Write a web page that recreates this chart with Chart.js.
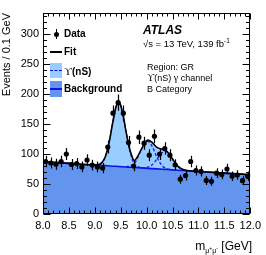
<!DOCTYPE html>
<html><head><meta charset="utf-8">
<script src="https://cdn.jsdelivr.net/npm/chart.js@4"></script>
<style>
html,body{margin:0;padding:0;background:#fff;}
#wrap{position:relative;width:266px;height:255px;font-family:"Liberation Sans",Arial,sans-serif;color:#000;overflow:hidden;}
canvas{position:absolute;left:0;top:0;}
.t{position:absolute;white-space:nowrap;line-height:1;transform:translateY(-50%);}
.b{font-weight:bold;}
.sym{position:absolute;}
.serif{font-family:"Liberation Serif","Times New Roman",serif;font-weight:normal;}
sup,sub{line-height:0;}
</style></head><body>
<div id="wrap">
<canvas id="c" width="266" height="255"></canvas>
<!-- legend -->
<div class="sym" style="left:55.5px;top:29px;width:1px;height:10px;background:#000"></div>
<div class="sym" style="left:53.5px;top:31.5px;width:5px;height:5px;border-radius:50%;background:#000"></div>
<div class="t b" style="left:64px;top:34px;font-size:10px">Data</div>
<div class="sym" style="left:50px;top:51px;width:12px;height:1.6px;background:#000"></div>
<div class="t b" style="left:64px;top:52px;font-size:10px">Fit</div>
<div class="sym" style="left:50px;top:63px;width:12px;height:15px;background:#99ccff"></div>
<div class="sym" style="left:50px;top:69.5px;width:12px;height:0;border-top:1.5px dashed #1010f0"></div>
<div class="t b" style="left:64px;top:71px;font-size:10px"><span class="serif" style="font-size:11px">ϒ</span>(nS)</div>
<div class="sym" style="left:50px;top:81px;width:12px;height:16px;background:#6394ee"></div>
<div class="sym" style="left:50px;top:88px;width:12px;height:1.6px;background:#0a14e6"></div>
<div class="t b" style="left:64px;top:89px;font-size:10px">Background</div>
<!-- labels -->
<div class="t b" style="left:143px;top:29.5px;font-size:12px;font-style:italic">ATLAS</div>
<div class="t" style="left:143px;top:43.5px;font-size:9.5px">√s = 13 TeV, 139 fb<sup style="font-size:6.5px">-1</sup></div>
<div class="t" style="left:147px;top:67px;font-size:9px">Region: GR</div>
<div class="t" style="left:147px;top:78px;font-size:9px"><span class="serif" style="font-size:10px">ϒ</span>(nS) <span class="serif" style="font-size:10px">γ</span> channel</div>
<div class="t" style="left:147px;top:89px;font-size:9px">B Category</div>
<div class="t" style="right:14px;top:246px;font-size:12px">m<sub style="font-size:7px">μ<sup style="font-size:5px">+</sup>μ<sup style="font-size:5px">-</sup></sub> [GeV]</div>
</div>
<script>
// ---- data ----
const binCenters = [8.05,8.15,8.25,8.35,8.45,8.55,8.65,8.75,8.85,8.95,
  9.05,9.15,9.25,9.35,9.45,9.55,9.65,9.75,9.85,9.95,
  10.05,10.15,10.25,10.35,10.45,10.55,10.65,10.75,10.85,10.95,
  11.05,11.15,11.25,11.35,11.45,11.55,11.65,11.75,11.85,11.95];
const dataCounts = [87.5,85,83,87.5,100,82.5,84,78.5,90,81.5,
  78.5,76.5,111.5,168,185.5,168,119,80,128,118,
  98,129.5,100,109,98,82,58,64,87.5,72.5,
  71,56,54.5,68,66,75,63,65,55.5,63];
const dataErrors = [9.4,9.2,9.1,9.4,10,9.1,9.2,8.9,9.5,9,
  8.9,8.7,10.6,13,13.6,13,10.9,8.9,11.3,10.9,
  9.9,11.4,10,10.4,9.9,9.1,7.6,8,9.4,8.5,
  8.4,7.5,7.4,8.2,8.1,8.7,7.9,8.1,7.5,7.9];
const fitX = [8.0,8.5,9.0,9.1,9.15,9.2,9.25,9.3,9.35,9.4,9.46,9.5,9.55,9.6,9.65,9.7,9.76,9.82,9.9,9.96,10.02,10.1,10.2,10.3,10.36,10.4,10.5,10.6,10.7,10.8,11.0,11.5,12.0];
const fitTotal = [87,84.3,81.8,83.4,87,95.1,109.3,130.2,154.5,175.7,186.8,181,162.9,138.7,116.1,100.4,89,95.2,108.2,118,123.1,119.7,110.9,108.1,106.5,103.7,91.6,79.8,74.1,72.2,70.9,68.2,65.5];
const fitBkg = [87,84.3,81.6,81.1,80.8,80.6,80.3,80.0,79.7,79.5,79.2,78.9,78.7,78.4,78.1,77.9,77.5,77.2,76.8,76.5,76.1,75.7,75.2,74.6,74.3,74.1,73.6,73.0,72.5,72.0,70.9,68.2,65.5];
const y1SX = [9.0,9.1,9.15,9.2,9.25,9.3,9.35,9.4,9.46,9.5,9.55,9.6,9.65,9.7,9.76,9.82,9.9,9.96];
const y1S = [81.6,83.4,87,95.1,109.3,130.2,154.5,175.7,186.8,181,162.9,138.3,114.9,97.4,83,79.5,77.2,76.6];
const y2SX = [9.6,9.7,9.76,9.82,9.9,9.96,10.02,10.1,10.2,10.3,10.36,10.4,10.5];
const y2S = [78.8,80.9,83.2,92.9,107.6,117.4,121.1,113.7,94.4,80.3,76.5,75.2,73.8];
const y3SX = [9.9,9.96,10.02,10.1,10.2,10.3,10.36,10.4,10.5,10.6,10.7,10.8];
const y3S = [77.0,77.1,78.0,81.7,91.7,102.4,104.3,102.6,91.4,79.8,74.1,72.2];
const xTicks = [8.0,8.5,9.0,9.5,10.0,10.5,11.0,11.5,12.0];
const xTickLabels = ['8.0','8.5','9.0','9.5','10.0','10.5','11.0','11.5','12.0'];
const yTicks = [0,50,100,150,200,250,300];
const yTickLabels = ['0','50','100','150','200','250','300'];
const xMin = 8, xMax = 12, yMin = 0, yMax = 335;
const xMinorStep = 0.1, yMinorStep = 10;

const pts = (xs, ys) => xs.map((x, i) => ({x: x, y: ys[i]}));
const FONT = '"Liberation Sans", Arial, sans-serif';

const errorBars = {
  id: 'errorBars',
  afterDatasetsDraw(chart) {
    const {ctx, scales: {x, y}, chartArea: a} = chart;
    ctx.save();
    ctx.beginPath(); ctx.rect(a.left, a.top, a.right - a.left, a.bottom - a.top); ctx.clip();
    ctx.strokeStyle = '#000'; ctx.lineWidth = 1.2;
    binCenters.forEach((c, i) => {
      const px = Math.round(x.getPixelForValue(c)) + 0.5;
      ctx.beginPath();
      ctx.moveTo(px, y.getPixelForValue(dataCounts[i] - dataErrors[i]));
      ctx.lineTo(px, y.getPixelForValue(dataCounts[i] + dataErrors[i]));
      ctx.stroke();
    });
    ctx.restore();
  }
};

const frameTicks = {
  id: 'frameTicks',
  afterDraw(chart) {
    const {ctx, scales: {x, y}, chartArea: a} = chart;
    ctx.save();
    ctx.strokeStyle = '#000'; ctx.lineWidth = 1;
    const L = Math.round(a.left) + 0.5, R = Math.round(a.right) - 0.5, T = Math.round(a.top) + 0.5, B = Math.round(a.bottom) - 0.5;
    ctx.strokeRect(L, T, R - L, B - T);
    ctx.beginPath();
    const nx = Math.round((xMax - xMin) / xMinorStep);
    for (let i = 0; i <= nx; i++) {
      const v = xMin + i * xMinorStep;
      const major = i % 5 === 0;
      const len = major ? 6 : 3;
      const px = Math.round(x.getPixelForValue(v)) + 0.5;
      ctx.moveTo(px, B); ctx.lineTo(px, B - len);
      ctx.moveTo(px, T); ctx.lineTo(px, T + len);
    }
    const ny = Math.floor((yMax - yMin) / yMinorStep);
    for (let i = 0; i <= ny; i++) {
      const v = yMin + i * yMinorStep;
      const major = i % 5 === 0;
      const len = major ? 7 : 3.5;
      const py = Math.round(y.getPixelForValue(v)) + 0.5;
      ctx.moveTo(L, py); ctx.lineTo(L + len, py);
      ctx.moveTo(R, py); ctx.lineTo(R - len, py);
    }
    ctx.stroke();
    ctx.restore();
  }
};

new Chart(document.getElementById('c'), {
  type: 'scatter',
  data: {
    datasets: [
      { label: 'Data', data: pts(binCenters, dataCounts), showLine: false,
        pointRadius: 2.6, pointBackgroundColor: '#000', pointBorderWidth: 0, borderColor: '#000', order: 0 },
      { label: 'Fit', data: pts(fitX, fitTotal), showLine: true, pointRadius: 0,
        borderColor: '#000', borderWidth: 1.6, cubicInterpolationMode: 'monotone',
        fill: { target: 4 }, backgroundColor: '#99ccff', order: 1 },
      { label: 'Y1S', data: pts(y1SX, y1S), showLine: true, pointRadius: 0, borderColor: '#1a1aee',
        borderWidth: 1.3, borderDash: [3, 2], cubicInterpolationMode: 'monotone', fill: false, order: 2 },
      { label: 'Y2S', data: pts(y2SX, y2S), showLine: true, pointRadius: 0, borderColor: '#1a1aee',
        borderWidth: 1.3, borderDash: [3, 2], cubicInterpolationMode: 'monotone', fill: false, order: 2 },
      { label: 'Background', data: pts(fitX, fitBkg), showLine: true, pointRadius: 0,
        borderColor: '#0a14e6', borderWidth: 1.6, fill: 'origin', backgroundColor: '#6394ee', order: 3 },
      { label: 'Y3S', data: pts(y3SX, y3S), showLine: true, pointRadius: 0, borderColor: '#1a1aee',
        borderWidth: 1.3, borderDash: [3, 2], cubicInterpolationMode: 'monotone', fill: false, order: 2 }
    ]
  },
  options: {
    responsive: false, animation: false, events: [],
    layout: { padding: { left: 0, top: 13, right: 14, bottom: 0 } },
    plugins: { legend: { display: false }, tooltip: { enabled: false }, filler: { drawTime: 'beforeDatasetsDraw' } },
    scales: {
      x: { type: 'linear', min: xMin, max: xMax,
        afterBuildTicks: s => { s.ticks = xTicks.map(v => ({ value: v })); },
        afterFit: s => { s.height = 41; },
        grid: { display: false, drawTicks: false }, border: { display: false },
        ticks: { padding: 5, color: '#000', font: { family: FONT, size: 11 }, maxRotation: 0,
          callback: (v, i) => xTickLabels[i] } },
      y: { type: 'linear', min: yMin, max: yMax,
        afterBuildTicks: s => { s.ticks = yTicks.map(v => ({ value: v })); },
        afterFit: s => { s.width = 43; },
        grid: { display: false, drawTicks: false }, border: { display: false },
        ticks: { padding: 4, color: '#000', font: { family: FONT, size: 11 },
          callback: (v, i) => yTickLabels[i] },
        title: { display: true, text: 'Events / 0.1 GeV', align: 'end', color: '#000',
          font: { family: FONT, size: 11 }, padding: 0 } }
    }
  },
  plugins: [errorBars, frameTicks]
});
</script>
</body></html>
